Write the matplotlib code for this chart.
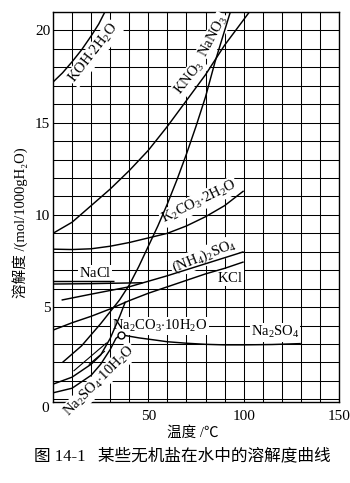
import matplotlib
matplotlib.use("Agg")
import matplotlib.pyplot as plt
import numpy as np

plt.rcParams['font.family'] = ['Liberation Serif', 'Noto Sans CJK SC', 'DejaVu Serif']
plt.rcParams['mathtext.fontset'] = 'custom'
plt.rcParams['mathtext.rm'] = 'Liberation Serif'
plt.rcParams['mathtext.it'] = 'Liberation Serif:italic'
plt.rcParams['mathtext.bf'] = 'Liberation Serif:bold'

# ---- data (temperature °C, solubility mol/1000 g H2O) ----
koh_t = [0, 5, 10, 15, 20, 24, 27.2]
koh_s = [17.2, 17.7, 18.3, 18.95, 19.7, 20.35, 21.0]

nano3_t = [0, 10, 20, 30, 40, 50, 60, 70, 80, 90, 103]
nano3_s = [9.0, 9.6, 10.5, 11.4, 12.4, 13.5, 14.8, 16.2, 17.6, 19.2, 21.0]

kno3_t = [5, 15, 25, 35, 40, 45, 50, 55, 60, 65, 70, 75, 80, 85, 93]
kno3_s = [2.0, 2.9, 4.1, 5.4, 6.2, 7.2, 8.3, 9.4, 10.6, 11.9, 13.3, 14.8, 16.4, 18.3, 21.0]

k2co3_t = [0, 10, 20, 30, 40, 50, 60, 70, 80, 90, 100]
k2co3_s = [8.14, 8.12, 8.16, 8.3, 8.5, 8.75, 9.0, 9.4, 9.9, 10.5, 11.3]

nacl_t = [0, 20, 47]
nacl_s = [6.25, 6.27, 6.32]
nacl2_t = [0, 32]
nacl2_s = [6.43, 6.43]

nh4so4_t = [4.5, 20, 40, 60, 80, 100]
nh4so4_s = [5.38, 5.7, 6.1, 6.7, 7.35, 8.0]

kcl_t = [0, 10, 20, 30, 40, 50, 60, 70, 80, 90, 100]
kcl_s = [3.75, 4.15, 4.5, 4.9, 5.35, 5.75, 6.1, 6.45, 6.8, 7.1, 7.45]

na2co3_t = [0, 10, 20, 25, 30, 35, 38]
na2co3_s = [0.82, 1.2, 1.9, 2.4, 3.3, 4.5, 5.3]

na2so4h_t = [0, 10, 20, 25, 30, 33, 35.5]
na2so4h_s = [0.35, 0.6, 1.3, 1.9, 2.7, 3.3, 3.5]

na2so4_t = [35.5, 40, 45, 53, 60, 70, 80, 90, 100, 115, 130]
na2so4_s = [3.5, 3.42, 3.33, 3.22, 3.12, 3.04, 2.98, 2.95, 2.95, 2.97, 3.02]

meta1_t = [11, 28]
meta1_s = [1.55, 3.05]
meta2_t = [19, 27]
meta2_s = [1.9, 2.6]

transition_t = [35.5]
transition_s = [3.5]

xticks = [50, 100, 150]
yticks = [5, 10, 15, 20]

# ---- figure ----
W, H = 350, 483
fig = plt.figure(figsize=(W / 100, H / 100), dpi=100)
ax = fig.add_axes([53 / W, 1 - 401.5 / H, (339 - 53) / W, (401.5 - 12) / H])
ax.set_xlim(0, 150)
ax.set_ylim(-0.12, 21)

ax.set_xticks(np.arange(0, 151, 10), minor=True)
ax.set_yticks(np.arange(0, 22, 1), minor=True)
ax.set_xticks(xticks)
ax.set_yticks(yticks)
ax.grid(True, which='both', color='black', lw=0.75, zorder=1)
ax.set_axisbelow(True)
ax.tick_params(which='both', length=0)
ax.tick_params(axis='x', pad=6, labelsize=11)
ax.tick_params(axis='y', pad=2, labelsize=11)
for sp in ax.spines.values():
    sp.set_linewidth(1.0)

lw = 1.05
curves = [(koh_t, koh_s), (nano3_t, nano3_s), (kno3_t, kno3_s), (k2co3_t, k2co3_s),
          (nacl_t, nacl_s), (nacl2_t, nacl2_s), (nh4so4_t, nh4so4_s), (kcl_t, kcl_s),
          (na2co3_t, na2co3_s), (na2so4h_t, na2so4h_s), (na2so4_t, na2so4_s)]
for t, s in curves:
    ax.plot(t, s, color='black', lw=lw, zorder=4, solid_capstyle='butt')
for t, s in [(meta1_t, meta1_s), (meta2_t, meta2_s)]:
    ax.plot(t, s, color='black', lw=0.8, zorder=4)
ax.plot(transition_t, transition_s, 'o', ms=5, mfc='white', mec='black', mew=1.0, zorder=5)

bb = dict(facecolor='white', edgecolor='none', pad=0.8)
labels = [
    (r'$\mathrm{KOH{\cdot}2H_2O}$', 21.5, 18.75, 52),
    (r'$\mathrm{KNO_3}$', 71.8, 17.45, 52),
    (r'$\mathrm{NaNO_3}$', 84.4, 19.7, 62),
    (r'$\mathrm{K_2CO_3{\cdot}2H_2O}$', 76.6, 10.7, 26),
    (r'$\mathrm{(NH_4)_2SO_4}$', 79.2, 7.75, 22),
    (r'$\mathrm{KCl}$', 92.8, 6.6, 0),
    (r'$\mathrm{NaCl}$', 22, 6.86, 0),
    (r'$\mathrm{Na_2CO_3{\cdot}10H_2O}$', 56.1, 3.96, 0),
    (r'$\mathrm{Na_2SO_4}$', 116.4, 3.63, 0),
    (r'$\mathrm{Na_2SO_4{\cdot}10H_2O}$', 24.6, 0.98, 45),
]
for txt, x, y, rot in labels:
    ax.text(x, y, txt, fontsize=10.5, rotation=rot, rotation_mode='anchor',
            ha='center', va='center', bbox=bb, zorder=3, clip_on=False)

fig.text(45 / W, 1 - 408 / H, '0', fontsize=11, ha='center', va='center')
fig.text(20 / W, 1 - 223 / H, '溶解度 /(mol/1000gH₂O)', rotation=90, fontsize=10.5,
         ha='center', va='center')
fig.text(193 / W, 1 - 433 / H, '温度 /℃', fontsize=10.5, ha='center', va='center')
fig.text(182 / W, 1 - 456 / H, '图 14-1   某些无机盐在水中的溶解度曲线', fontsize=12,
         ha='center', va='center')

fig.savefig('out.png', dpi=100)
